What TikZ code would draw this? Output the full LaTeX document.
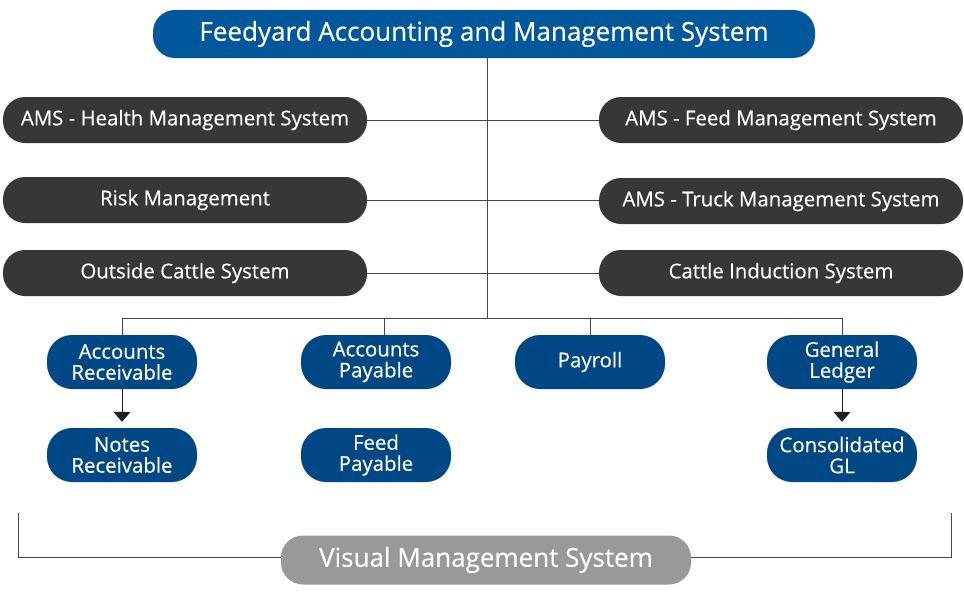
\documentclass[tikz,border=0pt]{standalone}
\usepackage{fontspec}
\setmainfont{Open Sans}[FakeBold=0.4]
\usetikzlibrary{arrows.meta}
\definecolor{topblue}{RGB}{0,87,155}
\definecolor{boxblue}{RGB}{0,71,133}
\definecolor{darkbox}{RGB}{54,56,53}
\definecolor{vmsgray}{RGB}{153,153,153}
\definecolor{linegray}{RGB}{70,70,70}
\definecolor{arrowdark}{RGB}{30,30,30}
\begin{document}
\begin{tikzpicture}[x=1pt,y=-1pt,
  pill/.style={rectangle, rounded corners=22pt, text=white, inner sep=0pt, align=center},
  topbox/.style={pill, fill=topblue, minimum width=662pt, minimum height=48pt, font=\fontsize{26}{28}\selectfont},
  amsbox/.style={pill, fill=darkbox, minimum width=364pt, minimum height=46pt, font=\fontsize{20.4}{22}\selectfont},
  finbox/.style={pill, fill=boxblue, minimum width=150pt, minimum height=54pt, rounded corners=25pt, font=\fontsize{20.4}{21}\selectfont},
  vmsbox/.style={pill, fill=vmsgray, minimum width=410pt, minimum height=49pt, font=\fontsize{26}{28}\selectfont},
  conn/.style={draw=linegray, line width=1pt},
  arr/.style={draw=arrowdark, line width=1pt, -{Triangle[width=17pt,length=10pt]}, shorten >=6pt}
]
\useasboundingbox (0,0) rectangle (964,592);

\node[topbox] (top) at (484,34) {Feedyard Accounting and Management System};

\node[amsbox] (hms) at (185,120) {AMS - Health Management System};
\node[amsbox] (fms) at (781,120) {AMS - Feed Management System};
\node[amsbox] (risk) at (185,200) {Risk Management};
\node[amsbox] (tms) at (781,201) {AMS - Truck Management System};
\node[amsbox] (ocs) at (185,273) {Outside Cattle System};
\node[amsbox] (cis) at (781,273) {Cattle Induction System};

\node[finbox] (ar) at (122,362) {Accounts\\Receivable};
\node[finbox] (ap) at (376,362) {Accounts\\Payable};
\node[finbox] (pay) at (590,362) {Payroll};
\node[finbox] (gl) at (842,362) {General\\Ledger};
\node[finbox] (nr) at (122,455) {Notes\\Receivable};
\node[finbox] (fp) at (376,455) {Feed\\Payable};
\node[finbox] (cgl) at (842,455) {Consolidated\\GL};

\node[vmsbox] (vms) at (486,560) {Visual Management System};

\coordinate (bus) at (487,318);
\coordinate (busL) at (122,318);
\coordinate (busR) at (842,318);
\coordinate (apTop) at (384,318);
\coordinate (apIn) at (384,335);
\coordinate (topOut) at (487,58);
\coordinate (lt) at (18,513);
\coordinate (lb) at (18,557);
\coordinate (rt) at (951,513);
\coordinate (rb) at (951,557);

\draw[conn] (topOut) -- (bus);
\draw[conn] (hms.east) -- (fms.west);
\draw[conn] (risk.east) -- (tms.west |- risk.east);
\draw[conn] (ocs.east) -- (cis.west);
\draw[conn] (busL) -- (busR);
\draw[conn] (busL) -- (ar.north);
\draw[conn] (apTop) -- (apIn);
\draw[conn] (pay.north |- bus) -- (pay.north);
\draw[conn] (busR) -- (gl.north);
\draw[arr] (ar.south) -- (nr.north);
\draw[arr] (gl.south) -- (cgl.north);
\draw[conn] (lt) -- (lb) -- (vms.west |- lb);
\draw[conn] (rt) -- (rb) -- (vms.east |- rb);
\end{tikzpicture}
\end{document}
